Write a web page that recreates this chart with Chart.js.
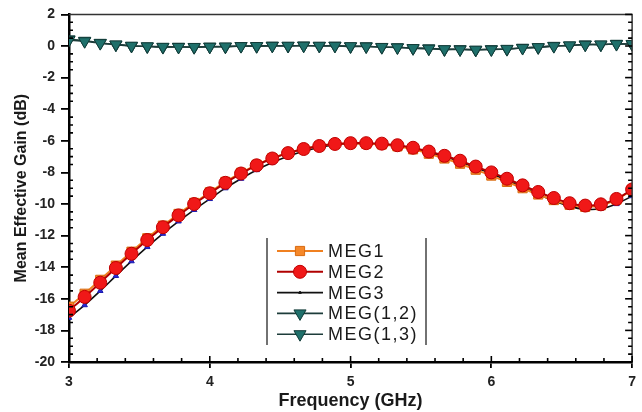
<!DOCTYPE html>
<html><head><meta charset="utf-8">
<script src="https://cdn.jsdelivr.net/npm/chart.js@4/dist/chart.umd.min.js"></script>
<style>html,body{margin:0;padding:0;background:#fff;}#wrap{width:642px;height:412px;position:relative;}</style>
</head><body><div id="wrap"><canvas id="c" width="642" height="412"></canvas></div>
<script>
// ---- data ----
const freqGHz = [3.000,3.111,3.222,3.333,3.444,3.556,3.667,3.778,3.889,4.000,4.111,4.222,4.333,4.444,4.556,4.667,4.778,4.889,5.000,5.111,5.222,5.333,5.444,5.556,5.667,5.778,5.889,6.000,6.111,6.222,6.333,6.444,6.556,6.667,6.778,6.889,7.000];
const seriesNames = ["MEG1","MEG2","MEG3","MEG(1,2)","MEG(1,3)"];
const meg1 = [-16.50,-15.68,-14.80,-13.90,-13.02,-12.17,-11.37,-10.63,-9.93,-9.26,-8.60,-8.03,-7.52,-7.10,-6.77,-6.52,-6.33,-6.21,-6.17,-6.18,-6.23,-6.35,-6.54,-6.82,-7.12,-7.45,-7.83,-8.20,-8.60,-9.00,-9.40,-9.75,-10.05,-10.18,-10.08,-9.72,-9.10];
const meg2 = [-16.75,-15.88,-14.98,-14.05,-13.15,-12.28,-11.47,-10.72,-10.00,-9.32,-8.66,-8.07,-7.55,-7.12,-6.78,-6.52,-6.33,-6.20,-6.15,-6.15,-6.18,-6.28,-6.44,-6.68,-6.95,-7.26,-7.63,-8.00,-8.40,-8.82,-9.24,-9.62,-9.95,-10.10,-10.02,-9.68,-9.08];
const meg3 = [-17.20,-16.40,-15.50,-14.55,-13.62,-12.72,-11.88,-11.10,-10.37,-9.68,-9.00,-8.40,-7.85,-7.38,-6.98,-6.66,-6.42,-6.26,-6.18,-6.17,-6.20,-6.30,-6.47,-6.72,-7.00,-7.33,-7.70,-8.08,-8.50,-8.93,-9.38,-9.80,-10.15,-10.33,-10.30,-10.00,-9.50];
const meg12 = [0.38,0.30,0.18,0.10,0.02,-0.02,-0.05,-0.06,-0.06,-0.05,-0.03,-0.01,0.00,0.01,0.02,0.02,0.02,0.01,-0.01,-0.03,-0.06,-0.09,-0.13,-0.17,-0.20,-0.22,-0.23,-0.22,-0.18,-0.13,-0.07,-0.01,0.04,0.08,0.10,0.12,0.13];
const meg13 = [0.42,0.33,0.20,0.08,0.00,-0.03,-0.07,-0.05,-0.08,-0.04,-0.05,0.00,-0.02,0.02,0.00,0.03,0.00,0.02,-0.03,-0.02,-0.08,-0.08,-0.15,-0.15,-0.22,-0.20,-0.25,-0.20,-0.20,-0.11,-0.09,0.01,0.02,0.10,0.08,0.14,0.11];
const xTickValues = [3,4,5,6,7];
const yTickValues = [-20,-18,-16,-14,-12,-10,-8,-6,-4,-2,0,2];

const pts = arr => arr.map((v,i)=>({x:freqGHz[i], y:v}));
const FONT = "'Liberation Sans', Arial, sans-serif";

const datasets = [
  {label:seriesNames[0], data:pts(meg1), borderColor:'#f08020', backgroundColor:'#f5882a', pointBorderColor:'#d86a10',
   pointStyle:'rect', pointRadius:6.5, borderWidth:2, order:2, legendRadius:6.5},
  {label:seriesNames[1], data:pts(meg2), borderColor:'#b00000', backgroundColor:'#f01818', pointBorderColor:'#c00000',
   pointStyle:'circle', pointRadius:6.5, borderWidth:2, order:1, legendRadius:6.5},
  {label:seriesNames[2], data:pts(meg3), borderColor:'#111', backgroundColor:'#2a2ad0', pointBorderColor:'#1a1ab0',
   pointStyle:'triangle', pointRadius:3.2, borderWidth:1.6, order:3, legendRadius:1.5, legendColor:'#111'},
  {label:seriesNames[3], data:pts(meg12), borderColor:'#1d3c3a', backgroundColor:'#1f706b', pointBorderColor:'#123c39',
   pointStyle:'triangle', pointRotation:180, pointRadius:7, borderWidth:1.6, order:4, legendRadius:7},
  {label:seriesNames[4], data:pts(meg13), borderColor:'#1d3c3a', backgroundColor:'#1f706b', pointBorderColor:'#123c39',
   pointStyle:'triangle', pointRotation:180, pointRadius:7, borderWidth:1.6, order:5, legendRadius:7},
];
datasets.forEach(d=>{ d.pointBackgroundColor=d.backgroundColor; d.pointBorderWidth=1; d.tension=0.3; d.fill=false; d.pointHoverRadius=d.pointRadius; });

const framePlugin = {
  id:'frame',
  afterDraw(chart){
    const {ctx, chartArea:a, scales:{x,y}} = chart;
    ctx.save();
    // top & right frame
    ctx.strokeStyle='#333'; ctx.lineWidth=1.5;
    ctx.beginPath(); ctx.moveTo(a.left,a.top); ctx.lineTo(a.right,a.top); ctx.lineTo(a.right,a.bottom); ctx.stroke();
    ctx.strokeStyle='#000'; ctx.lineWidth=1.6;
    // y minor ticks (inward, left) and right-side ticks
    for (let k=0;k<=44;k++){
      const v=-20+k*0.5; const py=y.getPixelForValue(v); const major=(k%4===0);
      ctx.beginPath();
      if(!major){ ctx.moveTo(a.left,py); ctx.lineTo(a.left+4,py); }
      ctx.moveTo(a.right,py); ctx.lineTo(a.right-(major?7:4),py);
      ctx.stroke();
    }
    // x minor ticks (inward)
    for (let k=0;k<=20;k++){
      const v=3+k*0.2; const px=x.getPixelForValue(v); const major=(k%5===0);
      ctx.beginPath(); ctx.moveTo(px,a.bottom); ctx.lineTo(px,a.bottom-(major?6:4)); ctx.stroke();
    }
    // legend
    const L = {x0:267, x1:426, yTop:238, yBot:345, segL:277, segR:323, mid:300, textX:328, row0:251, dy:20.8};
    ctx.strokeStyle='#444'; ctx.lineWidth=1.5;
    ctx.beginPath(); ctx.moveTo(L.x0,L.yTop); ctx.lineTo(L.x0,L.yBot); ctx.moveTo(L.x1,L.yTop); ctx.lineTo(L.x1,L.yBot); ctx.stroke();
    chart.data.datasets.forEach((d,i)=>{
      const yy = L.row0 + i*L.dy;
      ctx.strokeStyle=d.borderColor; ctx.lineWidth=d.borderWidth;
      ctx.beginPath(); ctx.moveTo(L.segL,yy); ctx.lineTo(L.segR,yy); ctx.stroke();
      ctx.fillStyle=d.legendColor||d.pointBackgroundColor; ctx.strokeStyle=d.legendColor||d.pointBorderColor; ctx.lineWidth=1;
      Chart.helpers.drawPoint(ctx,{pointStyle:d.pointStyle, radius:d.legendRadius, rotation:d.pointRotation||0, borderWidth:1}, L.mid, yy);
      ctx.fillStyle='#1a1a1a'; ctx.font='18px '+FONT; ctx.textBaseline='middle'; ctx.textAlign='left';
      try{ ctx.letterSpacing='1.5px'; }catch(e){}
      ctx.fillText(d.label, L.textX, yy+1);
      try{ ctx.letterSpacing='0px'; }catch(e){}
    });
    ctx.restore();
  }
};

new Chart(document.getElementById('c'), {
  type:'line',
  data:{datasets},
  options:{
    responsive:false, animation:false, devicePixelRatio:1,
    layout:{padding:{top:14,right:2,left:0,bottom:0}},
    plugins:{legend:{display:false}, tooltip:{enabled:false}},
    scales:{
      x:{type:'linear', min:3, max:7,
         afterBuildTicks:s=>{ s.ticks = xTickValues.map(v=>({value:v})); },
         afterFit:s=>{ s.height=50; },
         ticks:{font:{family:FONT,size:14,weight:'bold'}, color:'#222', padding:6, maxRotation:0},
         grid:{display:true, drawOnChartArea:false, drawTicks:true, tickLength:6, color:'#000', lineWidth:1.8},
         border:{display:true, color:'#000', width:2.5},
         title:{display:true, text:'Frequency (GHz)', font:{family:FONT,size:18,weight:'bold'}, color:'#1a1a1a', padding:{top:0,bottom:0}}},
      y:{type:'linear', min:-20, max:2,
         afterBuildTicks:s=>{ s.ticks = yTickValues.map(v=>({value:v})); },
         afterFit:s=>{ s.width=69; },
         ticks:{font:{family:FONT,size:14,weight:'bold'}, color:'#222', padding:6},
         grid:{display:true, drawOnChartArea:false, drawTicks:true, tickLength:8, color:'#000', lineWidth:1.8},
         border:{display:true, color:'#000', width:2.5},
         title:{display:true, text:'Mean Effective Gain (dB)', font:{family:FONT,size:16,weight:'bold'}, color:'#1a1a1a', padding:{top:12,bottom:0}}}
    }
  },
  plugins:[framePlugin]
});
</script></body></html>
